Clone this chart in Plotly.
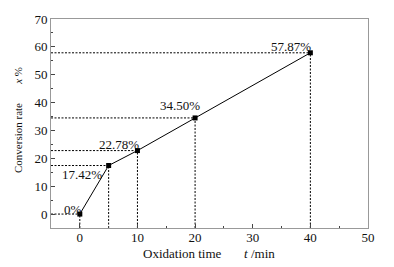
import plotly.graph_objects as go

time_min = [0, 5, 10, 20, 40]
conversion = [0, 17.42, 22.78, 34.50, 57.87]
labels = ["0%", "17.42%", "22.78%", "34.50%", "57.87%"]
label_shift_x = [-7, -27, -18, -15, -19]
label_shift_y = [5, -9, 6, 12, 6]

x_range = [-5, 50]
y_range = [-5, 70]

FONT = "Liberation Serif, Times New Roman, serif"
FS = 13
fig = go.Figure()

# guide lines from axes to each point
for t, c in zip(time_min, conversion):
    fig.add_trace(go.Scatter(x=[x_range[0], t], y=[c, c], mode="lines",
                             line=dict(color="black", width=1, dash="2px,1.5px"),
                             hoverinfo="skip", showlegend=False))
    fig.add_trace(go.Scatter(x=[t, t], y=[y_range[0], c], mode="lines",
                             line=dict(color="black", width=1, dash="2px,1.5px"),
                             hoverinfo="skip", showlegend=False))

fig.add_trace(go.Scatter(x=time_min, y=conversion, mode="lines+markers",
                         line=dict(color="black", width=1),
                         marker=dict(symbol="square", size=5, color="black"),
                         showlegend=False))

for t, c, lab, dx, dy in zip(time_min, conversion, labels, label_shift_x, label_shift_y):
    fig.add_annotation(x=t, y=c, text=lab, showarrow=False, xshift=dx, yshift=dy,
                       xanchor="center", yanchor="middle",
                       font=dict(family=FONT, size=FS, color="#111"))

nb = "\u00a0"
fig.add_annotation(xref="paper", yref="paper", x=0.498, y=-0.12,
                   xanchor="center", yanchor="middle",
                   text="Oxidation time" + nb * 7 + "<i>t</i> /min", showarrow=False,
                   font=dict(family=FONT, size=FS, color="#111"))
fig.add_annotation(xref="paper", yref="paper", x=-0.104, y=0.517, textangle=-90,
                   xanchor="center", yanchor="middle",
                   text="Conversion rate" + nb * 7 + "<i>x</i> %", showarrow=False,
                   font=dict(family=FONT, size=11, color="#111"))

axis_common = dict(showgrid=False, zeroline=False, showline=True, linecolor="#999",
                   linewidth=1, mirror=True, ticks="inside", ticklen=4, tickcolor="#444",
                   tickfont=dict(family=FONT, size=FS, color="#111"))
fig.update_xaxes(range=x_range, tickvals=[0, 10, 20, 30, 40, 50], ticklabelstandoff=-3,
                 minor=dict(tickvals=[5, 15, 25, 35, 45], ticks="inside", ticklen=2, tickcolor="#444"),
                 **axis_common)
fig.update_yaxes(range=y_range, tickvals=[0, 10, 20, 30, 40, 50, 60, 70],
                 minor=dict(tickvals=[5, 15, 25, 35, 45, 55, 65], ticks="inside", ticklen=2, tickcolor="#444"),
                 **axis_common)

fig.update_layout(width=394, height=267, margin=dict(l=51, r=26, t=19, b=39),
                  paper_bgcolor="white", plot_bgcolor="white")
fig.write_html("out.html", config={"displayModeBar": False},
               post_script="document.body.style.margin='0';")
